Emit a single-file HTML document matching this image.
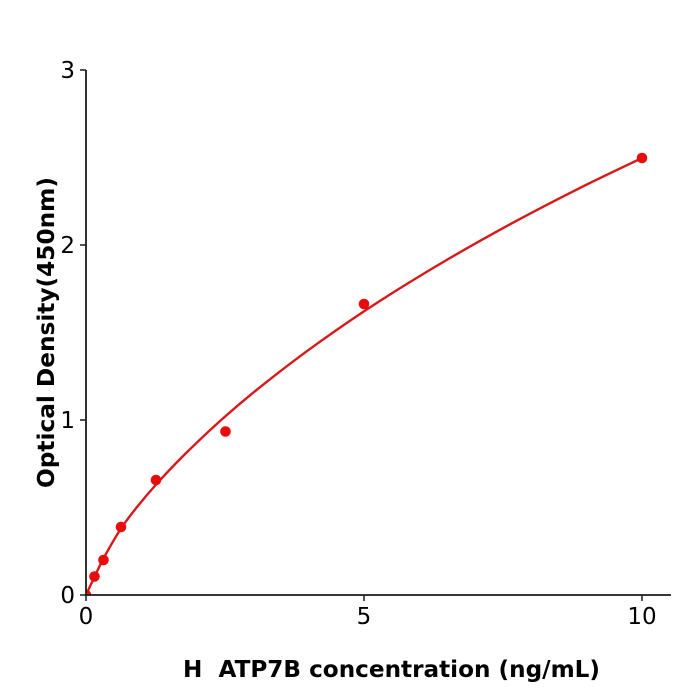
<!DOCTYPE html>
<html>
<head>
<meta charset="utf-8">
<style>
  html, body { margin: 0; padding: 0; background: #ffffff; }
  svg { display: block; }
  text { font-family: "DejaVu Sans", "Liberation Sans", sans-serif; fill: #000; }
</style>
</head>
<body>
<svg width="700" height="700" viewBox="0 0 700 700" xmlns="http://www.w3.org/2000/svg">
  <defs>
    <clipPath id="plot">
      <rect x="86" y="40" width="600" height="555"/>
    </clipPath>
  </defs>
  <rect width="700" height="700" fill="#ffffff"/>

  <!-- fitted curve -->
  <path clip-path="url(#plot)" fill="none" stroke="#d81818" stroke-width="2.4" stroke-linecap="round"
    d="M86,595 C87.33,592.17 91,584.25 94,578
       C97,571.75 99.5,565.75 104,557.5
       C108.5,549.25 115.67,536.7 121,528.5
       C126.33,520.3 130,515.8 136,508.3
       C142,500.8 149.17,492.2 157,483.5
       C164.83,474.8 172,466.95 183,456.1
       C194,445.25 209.17,430.68 223,418.4
       C236.83,406.12 249.83,395.18 266,382.4
       C282.17,369.62 301,355.28 320,341.7
       C339,328.12 359,314.45 380,300.9
       C401,287.35 423.83,273.43 446,260.4
       C468.17,247.37 490.67,234.78 513,222.7
       C535.33,210.62 558.5,198.68 580,187.9
       C601.5,177.12 631.67,162.98 642,158"/>

  <!-- data points -->
  <g fill="#e80c0c" clip-path="url(#plot)">
    <circle cx="86" cy="595" r="5.3"/>
    <circle cx="94.5" cy="576.5" r="5.3"/>
    <circle cx="103.5" cy="560" r="5.3"/>
    <circle cx="121" cy="527" r="5.3"/>
    <circle cx="156" cy="480" r="5.3"/>
    <circle cx="225.5" cy="431.5" r="5.3"/>
    <circle cx="364" cy="304" r="5.3"/>
    <circle cx="642" cy="158" r="5.3"/>
  </g>

  <!-- axes -->
  <line x1="86" y1="70" x2="86" y2="596" stroke="#1a1a1a" stroke-width="1.8"/>
  <line x1="85" y1="595" x2="671" y2="595" stroke="#1a1a1a" stroke-width="1.8"/>

  <!-- ticks -->
  <g stroke="#1a1a1a" stroke-width="1.5">
    <line x1="80" y1="595" x2="86" y2="595"/>
    <line x1="80" y1="420" x2="86" y2="420"/>
    <line x1="80" y1="245" x2="86" y2="245"/>
    <line x1="80" y1="70" x2="86" y2="70"/>
    <line x1="86" y1="595" x2="86" y2="601"/>
    <line x1="364" y1="595" x2="364" y2="601"/>
    <line x1="642" y1="595" x2="642" y2="601"/>
  </g>

  <!-- y tick labels -->
  <g font-size="23" text-anchor="end">
    <text x="75" y="603">0</text>
    <text x="75" y="428">1</text>
    <text x="75" y="253">2</text>
    <text x="75" y="78">3</text>
  </g>
  <!-- x tick labels -->
  <g font-size="23" text-anchor="middle">
    <text x="86" y="624">0</text>
    <text x="364" y="624">5</text>
    <text x="642" y="624">10</text>
  </g>

  <!-- axis titles -->
  <text x="391.5" y="677" font-size="23" font-weight="bold" text-anchor="middle" style="white-space:pre" textLength="417" lengthAdjust="spacingAndGlyphs">H  ATP7B concentration (ng/mL)</text>
  <text transform="translate(54,332.5) rotate(-90)" font-size="23" font-weight="bold" text-anchor="middle" textLength="311" lengthAdjust="spacingAndGlyphs">Optical Density(450nm)</text>
</svg>
</body>
</html>
